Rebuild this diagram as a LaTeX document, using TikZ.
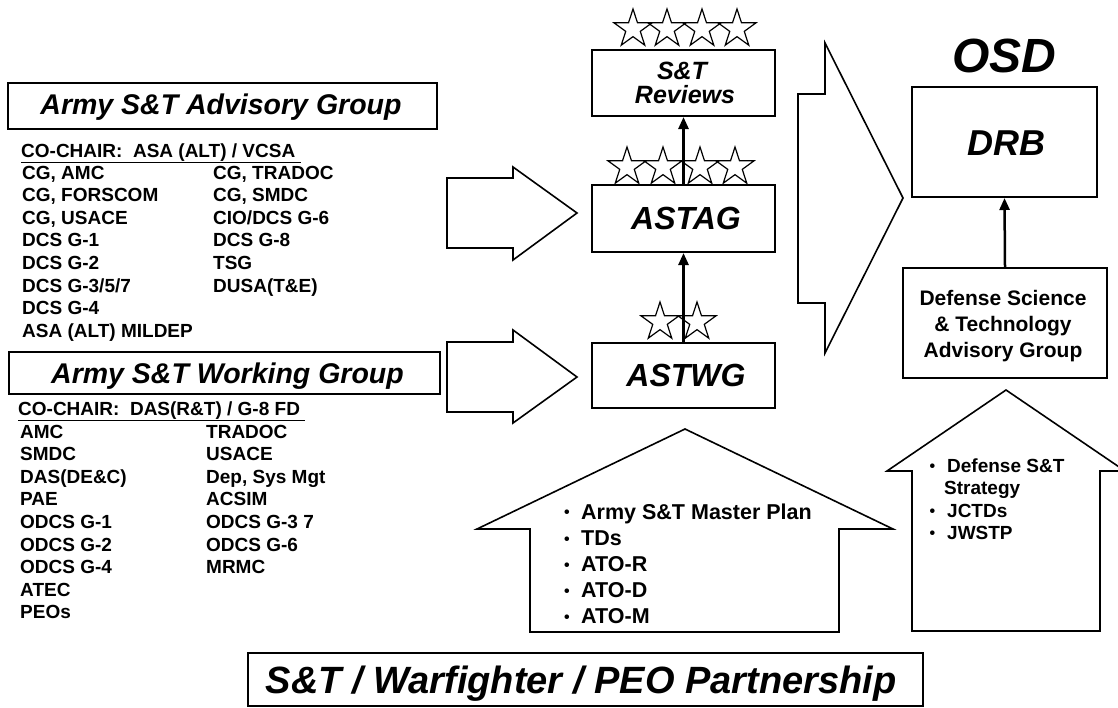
\documentclass[tikz,border=0pt]{standalone}
\usepackage{fontspec}
\setmainfont{Liberation Sans}
\usetikzlibrary{arrows.meta}
\newcommand{\mybul}[1]{\makebox[#1][l]{\raisebox{0.05em}{\fontsize{16}{16}\selectfont\textbullet}}}
\tikzset{
  box/.style={draw, line width=2pt, inner sep=0pt, rectangle},
  tbox/.style={draw, line width=2.4pt, inner sep=0pt, rectangle},
  item/.style={font=\fontsize{19}{19}\selectfont\bfseries, inner sep=0pt, anchor=base west},
  hitem/.style={font=\fontsize{21.5}{21.5}\selectfont\bfseries, inner sep=0pt, anchor=base west},
  ritem/.style={font=\fontsize{19}{19}\selectfont\bfseries, inner sep=0pt, anchor=base west},
  ttl/.style={font=\fontsize{28.5}{28.5}\selectfont\bfseries\itshape, inner sep=0pt, anchor=base},
  bigt/.style={font=\fontsize{32}{32}\selectfont\bfseries\itshape, inner sep=0pt, anchor=base},
  revt/.style={font=\fontsize{25}{25}\selectfont\bfseries\itshape, inner sep=0pt, anchor=base},
  deft/.style={font=\fontsize{21}{21}\selectfont\bfseries, inner sep=0pt, anchor=base},
  blk/.style={draw, line width=1.6pt, line join=miter},
  conn/.style={line width=2.5pt, -{Triangle[length=12pt,width=10pt]}},
  starline/.style={line width=1.2pt, line join=miter},
  pics/fivestar/.style={code={
    \draw[starline] (90:20pt) -- (126:7.64pt) -- (162:20pt) -- (198:7.64pt) -- (234:20pt)
      -- (270:7.64pt) -- (306:20pt) -- (342:7.64pt) -- (18:20pt) -- (54:7.64pt) -- cycle;}}
}
\begin{document}
\begin{tikzpicture}[x=1pt,y=-1pt]
\fill[white] (0,0) rectangle (1118,707);
\clip (0,0) rectangle (1118,707);

% ---- Advisory group ----
\node[tbox, minimum width=429pt, minimum height=46pt] (advbox) at (222.5,106) {};
\node[ttl] (advt) at (221,114) {Army S\&T Advisory Group};
\node[item] (advcc) at (21,157) {\underline{CO-CHAIR:\ \ ASA (ALT) / VCSA\ }};
\foreach \t [count=\i] in {{CG, AMC},{CG, FORSCOM},{CG, USACE},{DCS G-1},{DCS G-2},{DCS G-3/5/7},{DCS G-4},{ASA (ALT) MILDEP}}
  {\node[item] (advA\i) at (22,{179+22.6*(\i-1)}) {\t};}
\foreach \t [count=\i] in {{CG, TRADOC},{CG, SMDC},{CIO/DCS G-6},{DCS G-8},{TSG},{DUSA(T\&E)}}
  {\node[item] (advB\i) at (213,{179+22.6*(\i-1)}) {\t};}

% ---- Working group ----
\node[tbox, minimum width=431pt, minimum height=42pt] (wgbox) at (224.5,373) {};
\node[ttl] (wgt) at (227.5,383) {Army S\&T Working Group};
\node[item] (wgcc) at (18,415) {\underline{CO-CHAIR:\ \ DAS(R\&T) / G-8 FD\ }};
\foreach \t [count=\i] in {{AMC},{SMDC},{DAS(DE\&C)},{PAE},{ODCS G-1},{ODCS G-2},{ODCS G-4},{ATEC},{PEOs}}
  {\node[item] (wgA\i) at (20,{438+22.6*(\i-1)}) {\t};}
\foreach \t [count=\i] in {{TRADOC},{USACE},{Dep, Sys Mgt},{ACSIM},{ODCS G-3 7},{ODCS G-6},{MRMC}}
  {\node[item] (wgB\i) at (206,{438+22.6*(\i-1)}) {\t};}

% ---- block arrows ----
\draw[blk] (447,178) -- (513,178) -- (513,167) -- (577,213) -- (513,260) -- (513,248) -- (447,248) -- cycle;
\draw[blk] (447,342) -- (513,342) -- (513,330) -- (577,377) -- (513,423) -- (513,412) -- (447,412) -- cycle;

% ---- central column ----
\node[box, minimum width=183pt, minimum height=66pt] (reviews) at (683.5,83) {};
\node[revt] (revt1) at (682,79) {S\&T};
\node[revt] (revt2) at (685,103) {Reviews};
\node[box, minimum width=183pt, minimum height=67pt] (astag) at (683.5,218.5) {};
\node[bigt] (astagt) at (686,229) {ASTAG};
\node[box, minimum width=183pt, minimum height=65pt] (astwg) at (683.5,375.5) {};
\node[bigt] (astwgt) at (686,386) {ASTWG};

\foreach \x in {633,667,702,737} {\pic at (\x,29) {fivestar};}
\foreach \x in {627,663,700,735} {\pic at (\x,167) {fivestar};}
\foreach \x in {660,697} {\pic at (\x,322) {fivestar};}

\draw[conn] (astag.north) -- (reviews.south);
\draw[conn] (astwg.north) -- (astag.south);

% ---- big chevron ----
\draw[blk] (798,94) -- (825,94) -- (825,43) -- (903,198) -- (825,353) -- (825,303) -- (798,303) -- cycle;

% ---- OSD ----
\node[font=\fontsize{48}{48}\selectfont\bfseries\itshape, inner sep=0pt, anchor=base] (osd) at (1004,72) {OSD};
\node[box, minimum width=185pt, minimum height=110pt] (drb) at (1004.5,142) {};
\node[font=\fontsize{36}{36}\selectfont\bfseries\itshape, inner sep=0pt, anchor=base] (drbt) at (1006,155) {DRB};
\node[box, minimum width=204pt, minimum height=110pt] (def) at (1005,323) {};
\node[deft] (def1) at (1003,305) {Defense Science};
\node[deft] (def2) at (1003,331) {\& Technology};
\node[deft] (def3) at (1003,357) {Advisory Group};
\draw[conn] (def.north) -- (drb.south);

% ---- houses ----
\draw[blk] (530,632) -- (530,529) -- (477,529) -- (685,429) -- (893,529) -- (839,529) -- (839,632) -- cycle;
\foreach \t [count=\i] in {{Army S\&T Master Plan},{TDs},{ATO-R},{ATO-D},{ATO-M}}
  {\node[hitem] (hl\i) at (564,{519+26.2*(\i-1)}) {\mybul{17pt}\t};}

\draw[blk] (912,631) -- (912,471) -- (887,471) -- (1006,390) -- (1125,471) -- (1100,471) -- (1100,631) -- cycle;
\node[ritem] (hr1) at (929.5,472) {\mybul{17.5pt}Defense S\&T};
\node[ritem] (hr2) at (944,494) {Strategy};
\node[ritem] (hr3) at (929.5,517) {\mybul{17.5pt}JCTDs};
\node[ritem] (hr4) at (929.5,539.5) {\mybul{17.5pt}JWSTP};

% ---- bottom ----
\node[tbox, minimum width=675pt, minimum height=53pt] (bottom) at (585.5,679.5) {};
\node[font=\fontsize{38}{38}\selectfont\bfseries\itshape, inner sep=0pt, anchor=base] (bott) at (581,693) {S\&T / Warfighter / PEO Partnership};
\end{tikzpicture}
\end{document}
